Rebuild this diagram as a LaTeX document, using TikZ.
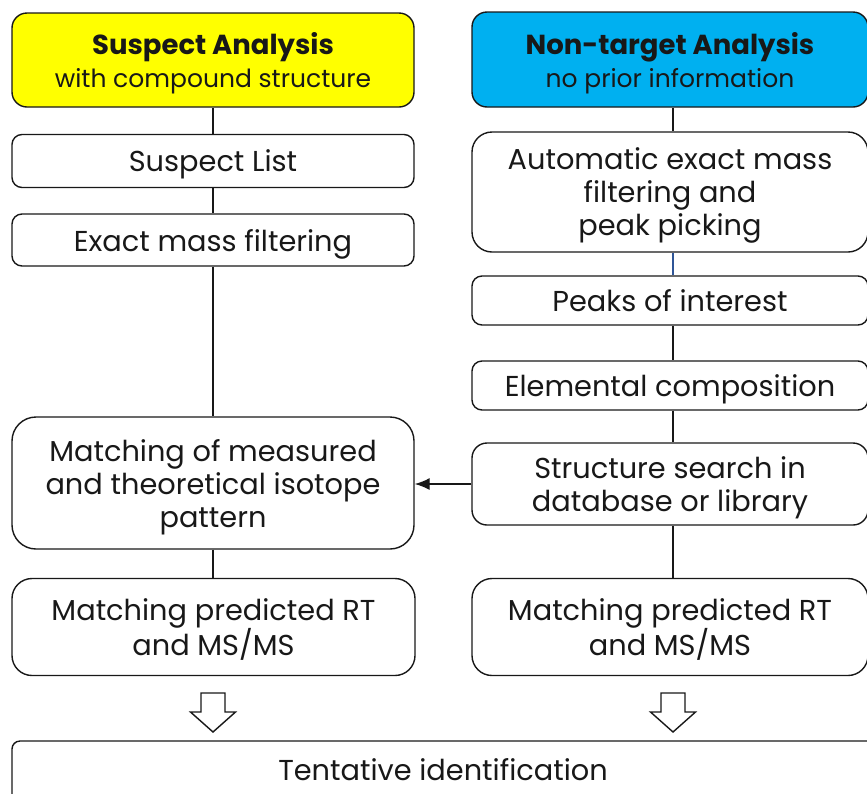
\documentclass[tikz,border=0pt]{standalone}
\usepackage{fontspec}
\setmainfont{Poppins}
\usetikzlibrary{arrows.meta}
\definecolor{suspectyellow}{RGB}{255,255,0}
\definecolor{nontargetblue}{RGB}{0,176,240}
\definecolor{inkdark}{RGB}{24,24,24}
\definecolor{linkblue}{RGB}{47,85,151}
\newcommand{\boxfont}{\fontsize{28.8}{33}\selectfont}
\newcommand{\subfont}{\fontsize{25}{32}\selectfont}
\begin{document}
\begin{tikzpicture}[x=1pt,y=-1pt,
  box/.style={draw=inkdark, line width=1.4pt, rounded corners=#1, align=center,
    text=inkdark, inner sep=0pt, font=\boxfont, text depth=0pt,
    execute at begin node={\vphantom{Ahl}},
    execute at end node={\vphantom{gpy}}},
  box/.default=10pt,
  link/.style={draw=inkdark, line width=1.4pt},
  hollow/.style={draw=inkdark, line width=1.4pt, fill=white, line join=miter}]
\useasboundingbox (0,0) rectangle (867,793);

% left column: suspect analysis
\node[box=15pt, fill=suspectyellow, minimum width=402pt, minimum height=94pt] (sus) at (213,60)
  {{\fontsize{27.5}{32}\selectfont\bfseries Suspect Analysis}\\{\subfont with compound structure}};
\node[box, minimum width=402pt, minimum height=53pt] (slist) at (213,161) {Suspect List};
\node[box, minimum width=402pt, minimum height=52pt] (exact) at (213,240) {Exact mass filtering};
\node[box=24pt, minimum width=402pt, minimum height=132pt] (match) at (213,483)
  {Matching of measured\\and theoretical isotope\\pattern};
\node[box=20pt, minimum width=403pt, minimum height=97pt] (rtl) at (213.5,627)
  {Matching predicted RT\\and MS/MS};

% right column: non-target analysis
\coordinate (rc) at (673,0);
\node[box=15pt, fill=nontargetblue, minimum width=396pt, minimum height=95pt] (nt) at (670,59.5)
  {{\fontsize{27.5}{32}\selectfont\bfseries Non-target Analysis}\\{\subfont no prior information}};
\node[box=20pt, minimum width=396pt, minimum height=120pt] (auto) at (670,192)
  {Automatic exact mass\\filtering and\\peak picking};
\node[box, minimum width=396pt, minimum height=49pt] (peaks) at (670,300.5) {Peaks of interest};
\node[box, minimum width=396pt, minimum height=49pt] (elem) at (670,385.5) {Elemental composition};
\node[box=15pt, minimum width=396pt, minimum height=82pt] (struct) at (670,484)
  {Structure search in\\database or library};
\node[box=20pt, minimum width=396pt, minimum height=97pt] (rtr) at (670,627)
  {Matching predicted RT\\and MS/MS};

% common result
\node[box=8pt, minimum width=870pt, minimum height=70pt] (tent) at (447,776) {};
\node[text=inkdark, font=\boxfont, anchor=base] (tentlabel) at (443,780) {Tentative identification};

% connectors, left
\draw[link] (sus.south) -- (slist.north);
\draw[link] (slist.south) -- (exact.north);
\draw[link] (exact.south) -- (match.north);
\draw[link] (match.south) -- (rtl.north -| match.south);

% connectors, right
\draw[link] (nt.south -| rc) -- (auto.north -| rc);
\draw[draw=linkblue, line width=1.4pt] (auto.south -| rc) -- (peaks.north -| rc);
\draw[link] (peaks.south -| rc) -- (elem.north -| rc);
\draw[link] (elem.south -| rc) -- (struct.north -| rc);
\draw[link] (struct.south -| rc) -- (rtr.north -| rc);
\draw[link, -{Latex[length=15pt,width=12pt]}] (struct.west) -- (match.east |- struct.west);

% hollow arrows into the result
\foreach \cx in {213,673}{
  \draw[hollow] (\cx-12,693) -- (\cx+12,693) -- (\cx+12,712) -- (\cx+22.5,712)
    -- (\cx,732) -- (\cx-22.5,712) -- (\cx-12,712) -- cycle;
}
\end{tikzpicture}
\end{document}
